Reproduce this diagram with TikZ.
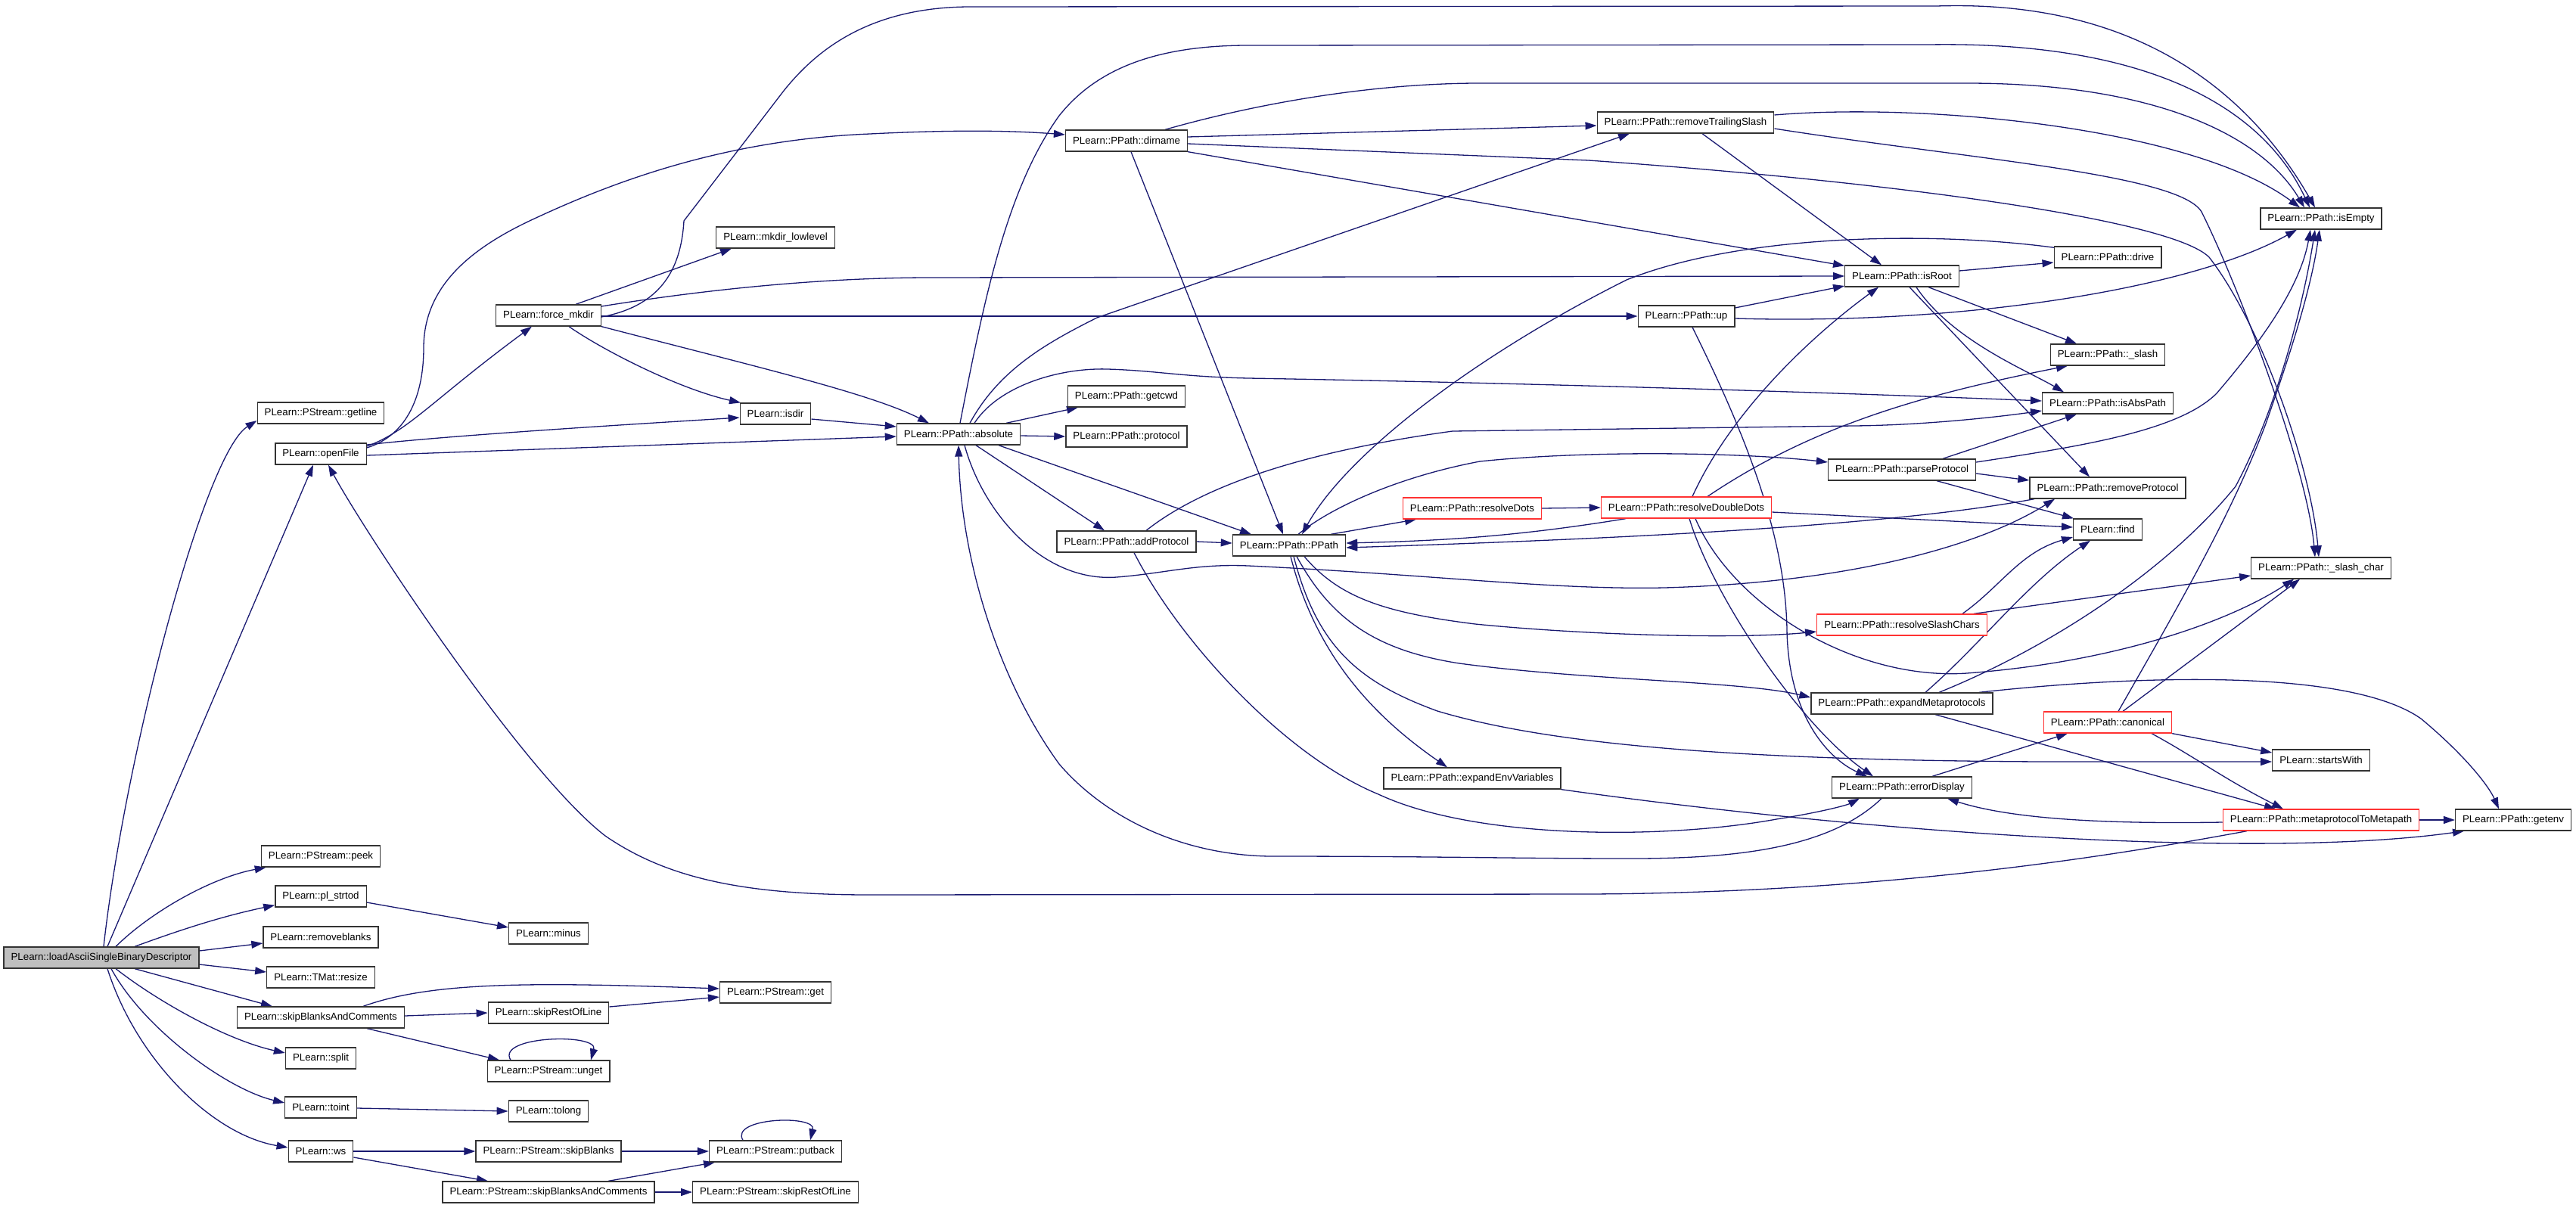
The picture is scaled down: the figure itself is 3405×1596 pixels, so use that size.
\documentclass[tikz,border=0pt]{standalone}
\usepackage{fontspec}
\setmainfont{Liberation Sans}
\usetikzlibrary{arrows.meta}
\pgfdeclarelayer{bg}
\pgfsetlayers{bg,main}
\definecolor{edgeblue}{RGB}{25,25,112}
\definecolor{redborder}{RGB}{255,50,50}
\definecolor{rootgray}{RGB}{191,191,191}
\begin{document}
\begin{tikzpicture}[x=1pt,y=-1pt,
  fn/.style={draw=black!80, line width=1.3pt, fill=white, inner xsep=9.5pt, inner ysep=0pt,
    minimum height=28pt, font=\fontsize{13.3pt}{16pt}\selectfont, text=black},
  redfn/.style={fn, draw=redborder},
  rootfn/.style={fn, fill=rootgray},
  edge/.style={draw=edgeblue, line width=1.3pt, -{Triangle[length=15pt,width=10pt]}},
]
\useasboundingbox (0,0) rectangle (3405,1596);
% ---------- nodes ----------
\node[rootfn] (root) at (134,1266) {PLearn::loadAsciiSingleBinaryDescriptor};
\node[fn] (getline) at (424,546) {PLearn::PStream::getline};
\node[fn] (openFile) at (424,600) {PLearn::openFile};
\node[fn] (forcemkdir) at (725,417) {PLearn::force\_mkdir};
\node[fn] (mkdirll) at (1025,314) {PLearn::mkdir\_lowlevel};
\node[fn] (isdir) at (1025,547) {PLearn::isdir};
\node[fn] (absolute) at (1267,574) {PLearn::PPath::absolute};
\node[fn] (getcwd) at (1489,524) {PLearn::PPath::getcwd};
\node[fn] (protocol) at (1489,577) {PLearn::PPath::protocol};
\node[fn] (dirname) at (1489,186) {PLearn::PPath::dirname};
\node[fn] (addProtocol) at (1489,716) {PLearn::PPath::addProtocol};
\node[fn] (PPath) at (1704,721) {PLearn::PPath::PPath};
\node[redfn] (resolveDots) at (1946,672) {PLearn::PPath::resolveDots};
\node[redfn] (resolveDoubleDots) at (2229,671) {PLearn::PPath::resolveDoubleDots};
\node[fn] (expandEnv) at (1946,1029) {PLearn::PPath::expandEnvVariables};
\node[fn] (removeTS) at (2228,162) {PLearn::PPath::removeTrailingSlash};
\node[fn] (isRoot) at (2514,365) {PLearn::PPath::isRoot};
\node[fn] (up) at (2229,418) {PLearn::PPath::up};
\node[fn] (drive) at (2786,340) {PLearn::PPath::drive};
\node[fn] (isEmpty) at (3068,289) {PLearn::PPath::isEmpty};
\node[fn] (slash) at (2786,469) {PLearn::PPath::\_slash};
\node[fn] (isAbsPath) at (2786,533) {PLearn::PPath::isAbsPath};
\node[fn] (parseProtocol) at (2514,621) {PLearn::PPath::parseProtocol};
\node[fn] (removeProtocol) at (2786,645) {PLearn::PPath::removeProtocol};
\node[fn] (find) at (2786,700) {PLearn::find};
\node[fn] (slashchar) at (3068,751) {PLearn::PPath::\_slash\_char};
\node[redfn] (resolveSlashChars) at (2514,826) {PLearn::PPath::resolveSlashChars};
\node[fn] (expandMeta) at (2514,930) {PLearn::PPath::expandMetaprotocols};
\node[redfn] (canonical) at (2786,955) {PLearn::PPath::canonical};
\node[fn] (startsWith) at (3068,1005) {PLearn::startsWith};
\node[fn] (errorDisplay) at (2514,1041) {PLearn::PPath::errorDisplay};
\node[redfn] (mtm) at (3068,1084) {PLearn::PPath::metaprotocolToMetapath};
\node[fn] (getenv) at (3322,1084) {PLearn::PPath::getenv};
\node[fn] (peek) at (424,1132) {PLearn::PStream::peek};
\node[fn] (plstrtod) at (424,1185) {PLearn::pl\_strtod};
\node[fn] (minus) at (725,1234) {PLearn::minus};
\node[fn] (removeblanks) at (424,1239) {PLearn::removeblanks};
\node[fn] (resize) at (424,1292) {PLearn::TMat::resize};
\node[fn] (skipBAC) at (424,1345) {PLearn::skipBlanksAndComments};
\node[fn] (skipROL) at (725,1339) {PLearn::skipRestOfLine};
\node[fn] (psget) at (1025,1312) {PLearn::PStream::get};
\node[fn] (unget) at (725,1416) {PLearn::PStream::unget};
\node[fn] (split) at (424,1399) {PLearn::split};
\node[fn] (toint) at (424,1464) {PLearn::toint};
\node[fn] (tolong) at (725,1469) {PLearn::tolong};
\node[fn] (ws) at (424,1522) {PLearn::ws};
\node[fn] (psSkipBlanks) at (725,1522) {PLearn::PStream::skipBlanks};
\node[fn] (putback) at (1025,1522) {PLearn::PStream::putback};
\node[fn] (psSkipBAC) at (725,1576) {PLearn::PStream::skipBlanksAndComments};
\node[fn] (psSkipROL) at (1025,1576) {PLearn::PStream::skipRestOfLine};
% ---------- edges ----------
\begin{pgfonlayer}{bg}
% root
\draw[edge] ([xshift=3pt]root.north) .. controls (165,1000) and (270,600) .. ([yshift=-10pt]getline.west);
\draw[edge] ([xshift=8pt]root.north) -- ([xshift=-10pt]openFile.south);
\draw[edge] ([xshift=19pt]root.north) .. controls (200,1205) and (280,1160) .. ([xshift=7pt]peek.south west);
\draw[edge] ([xshift=44pt]root.north) .. controls (250,1225) and (300,1210) .. ([yshift=3pt]plstrtod.south west);
\draw[edge] ([yshift=9pt]root.east) -- ([yshift=-8pt]removeblanks.west);
\draw[edge] ([yshift=-9pt]root.east) -- ([yshift=7pt]resize.west);
\draw[edge] ([xshift=44pt]root.south) -- ([xshift=-64pt]skipBAC.north);
\draw[edge] ([xshift=19pt]root.south) .. controls (210,1325) and (300,1375) .. ([yshift=7pt]split.west);
\draw[edge] ([xshift=13pt]root.south) .. controls (190,1360) and (300,1440) .. ([yshift=6pt]toint.west);
\draw[edge] ([xshift=8pt]root.south) .. controls (180,1400) and (280,1500) .. ([yshift=5pt]ws.west);
% openFile
\draw[edge] ([yshift=10pt]openFile.east) .. controls (540,570) and (570,530) .. ([xshift=-22pt]forcemkdir.south);
\draw[edge] ([yshift=12pt]openFile.east) .. controls (600,575) and (850,560) .. ([yshift=-5pt]isdir.west);
\draw[edge] ([yshift=-2pt]openFile.east) -- ([yshift=-3pt]absolute.west);
\draw[edge] ([yshift=8pt]openFile.east) .. controls (540,575) and (560,520) .. (560,460)
  .. controls (560,380) and (620,330) .. (700,292) .. controls (800,245) and (950,185) .. (1150,177)
  .. controls (1250,172) and (1330,172) .. ([yshift=8pt]dirname.west);
% force_mkdir
\draw[edge] ([xshift=36pt]forcemkdir.north) -- ([xshift=-58pt]mkdirll.south);
\draw[edge] ([xshift=27pt]forcemkdir.south) .. controls (800,465) and (900,515) .. ([xshift=-46pt]isdir.north);
\draw[edge] (forcemkdir.south east) .. controls (1000,485) and (1150,520) .. ([xshift=-39pt]absolute.north);
\draw[edge] ([yshift=12pt]forcemkdir.east) .. controls (950,380) and (1100,367) .. (1230,367) -- (isRoot.west);
\draw[edge] ([yshift=-1pt]forcemkdir.east) -- (up.west);
\draw[edge] ([yshift=-2pt]forcemkdir.east) .. controls (870,405) and (900,360) .. (904,292) -- (1036,120)
  .. controls (1080,65) and (1150,10) .. (1280,9) -- (2560,8) .. controls (2800,0) and (2960,100) .. ([xshift=-8pt]isEmpty.north);
% isdir
\draw[edge] ([yshift=-7pt]isdir.east) -- ([yshift=10pt]absolute.west);
% absolute
\draw[edge] ([xshift=63pt]absolute.north) -- ([xshift=-64pt]getcwd.south);
\draw[edge] ([yshift=-2pt]absolute.east) -- (protocol.west);
\draw[edge] ([xshift=23pt]absolute.south) -- ([xshift=-29pt]addProtocol.north);
\draw[edge] ([xshift=53pt]absolute.south) -- ([xshift=-50pt]PPath.north);
\draw[edge] ([xshift=2pt]absolute.north) .. controls (1300,400) and (1330,250) .. (1400,153)
  .. controls (1450,90) and (1530,60) .. (1650,60) -- (2550,59) .. controls (2800,55) and (2980,120) .. ([xshift=-15pt]isEmpty.north);
\draw[edge] ([xshift=15pt]absolute.north) .. controls (1320,490) and (1380,455) .. (1450,420) -- ([xshift=-74pt]removeTS.south);
\draw[edge] ([xshift=21pt]absolute.north) .. controls (1320,510) and (1400,486) .. (1464,488)
  .. controls (1530,490) and (1560,498) .. (1650,500) .. controls (2000,506) and (2400,518) .. ([yshift=3pt]isAbsPath.west);
\draw[edge] ([xshift=8pt]absolute.south) .. controls (1300,680) and (1380,770) .. (1476,763)
  .. controls (1540,758) and (1580,745) .. (1650,748) .. controls (1900,760) and (2050,780) .. (2200,777)
  .. controls (2450,770) and (2620,720) .. ([xshift=-70pt]removeProtocol.south);
% dirname
\draw[edge] ([xshift=51pt]dirname.north) .. controls (1650,140) and (1800,111) .. (1950,110) -- (2600,110)
  .. controls (2850,110) and (2990,180) .. ([xshift=-22pt]isEmpty.north);
\draw[edge] ([yshift=5pt]dirname.east) -- ([yshift=-4pt]removeTS.west);
\draw[edge] (dirname.south east) -- ([yshift=-1pt]isRoot.north west);
\draw[edge] ([xshift=6pt]dirname.south) -- ([xshift=-8pt]PPath.north);
\draw[edge] ([yshift=-4pt]dirname.east) -- (2100,212) .. controls (2500,240) and (2870,290) .. (2920,340)
  .. controls (2990,430) and (3055,620) .. ([xshift=-3pt]slashchar.north);
% removeTrailingSlash
\draw[edge] ([yshift=10pt]removeTS.east) .. controls (2550,135) and (2900,170) .. ([xshift=-28pt]isEmpty.north);
\draw[edge] ([yshift=-8pt]removeTS.east) .. controls (2600,210) and (2880,230) .. (2910,280)
  .. controls (2960,380) and (3050,620) .. ([xshift=-8pt]slashchar.north);
\draw[edge] ([xshift=22pt]removeTS.south) -- ([xshift=-27pt]isRoot.north);
% addProtocol
\draw[edge] (addProtocol.east) -- ([yshift=3pt]PPath.west);
\draw[edge] ([xshift=26pt]addProtocol.north) .. controls (1580,650) and (1700,600) .. (1920,570) -- (2450,563)
  .. controls (2550,562) and (2650,550) .. ([yshift=-10pt]isAbsPath.west);
\draw[edge] ([xshift=10pt]addProtocol.south) .. controls (1560,850) and (1700,1000) .. (1822,1050)
  .. controls (1950,1110) and (2200,1110) .. (2348,1083) .. controls (2400,1075) and (2440,1065) .. ([xshift=-56pt]errorDisplay.south);
% PPath
\draw[edge] ([xshift=55pt]PPath.north) -- ([xshift=-74pt]resolveDots.south);
\draw[edge] ([xshift=12pt]PPath.north) .. controls (1760,670) and (1850,630) .. (1956,610)
  .. controls (2100,595) and (2300,598) .. ([yshift=10pt]parseProtocol.west);
\draw[edge] ([xshift=20pt]PPath.south) .. controls (1770,790) and (1830,810) .. (1950,825)
  .. controls (2100,840) and (2300,845) .. ([yshift=-9pt]resolveSlashChars.west);
\draw[edge] ([xshift=10pt]PPath.south) .. controls (1760,820) and (1820,860) .. (1929,877)
  .. controls (2100,900) and (2300,900) .. ([yshift=8pt]expandMeta.west);
\draw[edge] ([xshift=6pt]PPath.south) .. controls (1740,850) and (1790,900) .. (1900,940)
  .. controls (2050,985) and (2300,1005) .. (2700,1007) -- ([yshift=-2pt]startsWith.west);
\draw[edge] ([xshift=2pt]PPath.south) .. controls (1740,870) and (1820,950) .. ([xshift=-33pt]expandEnv.north);
% resolveDots / resolveDoubleDots
\draw[edge] (resolveDots.east) -- (resolveDoubleDots.west);
\draw[edge] ([xshift=-80pt]resolveDoubleDots.south) .. controls (2000,710) and (1900,715) .. ([yshift=3pt]PPath.east);
\draw[edge] ([xshift=8pt]resolveDoubleDots.north) .. controls (2290,540) and (2400,440) .. ([xshift=-31pt]isRoot.south);
\draw[edge] ([xshift=28pt]resolveDoubleDots.north) .. controls (2400,560) and (2550,520) .. ([xshift=-53pt]slash.south);
\draw[edge] ([yshift=-6pt]resolveDoubleDots.east) -- ([yshift=3pt]find.west);
\draw[edge] ([xshift=4pt]resolveDoubleDots.south) .. controls (2265,790) and (2380,960) .. ([xshift=-38pt]errorDisplay.north);
\draw[edge] ([xshift=12pt]resolveDoubleDots.south) .. controls (2290,800) and (2450,900) .. (2600,890)
  .. controls (2800,875) and (2950,820) .. ([xshift=-36pt]slashchar.south);
% up
\draw[edge] ([yshift=11pt]up.east) -- ([yshift=-13pt]isRoot.west);
\draw[edge] ([yshift=-3pt]up.east) .. controls (2600,430) and (2900,380) .. ([xshift=-32pt]isEmpty.south);
\draw[edge] ([xshift=8pt]up.south) .. controls (2300,560) and (2360,700) .. (2362,833)
  .. controls (2364,950) and (2420,1005) .. ([xshift=-46pt]errorDisplay.north);
% isRoot
\draw[edge] ([yshift=7pt]isRoot.east) -- ([yshift=-7pt]drive.west);
\draw[edge] ([xshift=35pt]isRoot.south) -- ([xshift=-41pt]slash.south |- slash.north);
\draw[edge] ([xshift=19pt]isRoot.south) .. controls (2580,450) and (2680,490) .. ([xshift=-58pt]isAbsPath.north);
\draw[edge] ([xshift=10pt]isRoot.south) -- ([xshift=-24pt]removeProtocol.north);
% drive
\draw[edge] ([xshift=1pt,yshift=-2pt]drive.north west) .. controls (2550,305) and (2300,310) .. (2150,370)
  .. controls (1950,470) and (1780,600) .. ([xshift=17pt]PPath.north);
% parseProtocol
\draw[edge] ([xshift=54pt]parseProtocol.north) -- ([xshift=-41pt]isAbsPath.south);
\draw[edge] ([yshift=10pt]parseProtocol.east) .. controls (2750,590) and (2880,570) .. (2930,520)
  .. controls (2990,450) and (3040,380) .. ([xshift=-14pt]isEmpty.south);
\draw[edge] ([yshift=-5pt]parseProtocol.east) -- ([yshift=10pt]removeProtocol.west);
\draw[edge] ([xshift=46pt]parseProtocol.south) -- ([xshift=1pt]find.north west);
% removeProtocol
\draw[edge] ([xshift=-97pt]removeProtocol.south) .. controls (2500,695) and (2150,712) .. ([yshift=-3pt]PPath.east);
% resolveSlashChars
\draw[edge] ([xshift=80pt]resolveSlashChars.north) .. controls (2645,775) and (2670,730) .. ([yshift=-10pt]find.west);
\draw[edge] ([xshift=95pt]resolveSlashChars.north) -- ([yshift=-10pt]slashchar.west);
% expandMetaprotocols
\draw[edge] ([xshift=31pt]expandMeta.north) .. controls (2620,850) and (2680,770) .. ([xshift=-23pt]find.south);
\draw[edge] ([xshift=49pt]expandMeta.north) .. controls (2700,860) and (2860,760) .. (2955,643)
  .. controls (3010,540) and (3045,400) .. ([xshift=-8pt]isEmpty.south);
\draw[edge] ([xshift=102pt]expandMeta.north) .. controls (2800,895) and (3100,880) .. (3200,950)
  .. controls (3260,1000) and (3290,1040) .. ([xshift=-19pt]getenv.north);
\draw[edge] ([xshift=44pt]expandMeta.south) -- ([xshift=-60pt]mtm.north);
% canonical
\draw[edge] ([xshift=14pt]canonical.north) .. controls (2880,800) and (2950,680) .. (2995,560)
  .. controls (3030,460) and (3055,380) .. ([xshift=-2pt]isEmpty.south);
\draw[edge] ([xshift=20pt]canonical.north) -- ([xshift=-28pt]slashchar.south);
\draw[edge] (canonical.south east) -- ([yshift=10pt]startsWith.west);
\draw[edge] ([xshift=58pt]canonical.south) .. controls (2900,1000) and (2940,1030) .. ([xshift=-50pt]mtm.north);
% errorDisplay
\draw[edge] ([xshift=40pt]errorDisplay.north) -- ([xshift=-53pt]canonical.south);
\draw[edge] ([xshift=-27pt]errorDisplay.south) .. controls (2420,1120) and (2300,1135) .. (2157,1135)
  .. controls (2000,1135) and (1900,1132) .. (1678,1132) .. controls (1560,1130) and (1460,1080) .. (1400,1010)
  .. controls (1320,900) and (1270,740) .. (absolute.south);
% metaprotocolToMetapath
\draw[edge] (mtm.east) -- (getenv.west);
\draw[edge] ([yshift=-3pt]mtm.west) .. controls (2760,1090) and (2650,1080) .. ([xshift=60pt]errorDisplay.south);
\draw[edge] ([xshift=-98pt]mtm.south) .. controls (2800,1130) and (2500,1180) .. (2100,1182) -- (1150,1183)
  .. controls (980,1183) and (880,1160) .. (800,1105) .. controls (690,1020) and (480,700) .. ([xshift=10pt]openFile.south);
% expandEnvVariables
\draw[edge] (expandEnv.south east) .. controls (2500,1105) and (3000,1135) .. ([xshift=-65pt]getenv.south);
% lower group
\draw[edge] ([yshift=-8pt]plstrtod.east) -- ([yshift=8pt]minus.west);
\draw[edge] ([xshift=56pt]skipBAC.north) .. controls (570,1298) and (700,1298) .. ([yshift=5pt]psget.west);
\draw[edge] ([yshift=2pt]skipBAC.east) -- (skipROL.west);
\draw[edge] ([xshift=61pt]skipBAC.south) -- ([xshift=-65pt]unget.north);
\draw[edge] ([yshift=8pt]skipROL.east) -- ([yshift=-6pt]psget.west);
\draw[edge] ([xshift=-50pt]unget.north) .. controls +(-20,-32) and +(10,-36) .. ([xshift=56pt]unget.north);
\draw[edge] ([yshift=-1pt]toint.east) -- (tolong.west);
\draw[edge] (ws.east) -- (psSkipBlanks.west);
\draw[edge] ([yshift=-8pt]ws.east) -- ([xshift=-80pt]psSkipBAC.north);
\draw[edge] (psSkipBlanks.east) -- (putback.west);
\draw[edge] ([xshift=-43pt]putback.north) .. controls +(-18,-30) and +(8,-34) .. ([xshift=46pt]putback.north);
\draw[edge] ([xshift=79pt]psSkipBAC.north) -- ([xshift=-80pt]putback.south);
\draw[edge] (psSkipBAC.east) -- (psSkipROL.west);
\end{pgfonlayer}
\end{tikzpicture}
\end{document}
